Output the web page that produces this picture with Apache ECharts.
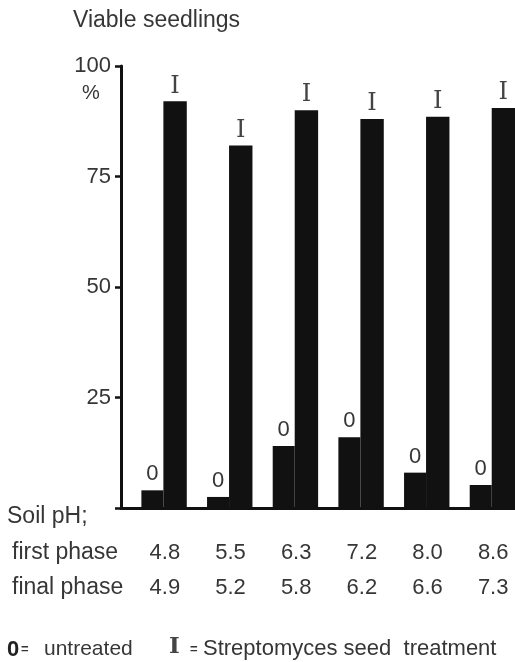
<!DOCTYPE html>
<html>
<head>
<meta charset="utf-8">
<script src="https://cdn.jsdelivr.net/npm/echarts@6/dist/echarts.min.js"></script>
<style>
html,body{margin:0;padding:0;background:#fff;}
#c{width:515px;height:662px;}
</style>
</head>
<body>
<div id="c"></div>
<script>
// Soil pH categories
const firstPhase = ['4.8', '5.5', '6.3', '7.2', '8.0', '8.6'];
const finalPhase = ['4.9', '5.2', '5.8', '6.2', '6.6', '7.3'];
// Viable seedlings, %
const untreated = [4, 2.5, 14, 16, 8, 5.2];
const treated = [92, 82, 90, 88, 88.5, 90.5];
const spacer = ['-', '-', '-', '-', '-', '-'];
const yTicks = [0, 25, 50, 75, 100];

const FONT = '"Liberation Sans", Arial, Helvetica, sans-serif';
const SERIF = '"DejaVu Serif", "Liberation Serif", serif';
const TXT = '#363636';
const INK = '#111';

const chart = echarts.init(document.getElementById('c'), null, {renderer: 'canvas'});
const t = (text, left, top, size, extra) => Object.assign({
  text: text, left: left, top: top, padding: 0,
  textStyle: {fontFamily: FONT, fontSize: size, fontWeight: 'normal', color: TXT}
}, extra || {});

chart.setOption({
  backgroundColor: '#fff',
  animation: false,
  title: [
    t('Viable seedlings', 73, 9, 23),
    t('%', 82, 83, 20),
    t('Soil pH;', 7, 505, 23),
    t('first phase', 12, 541, 23),
    t('final phase', 12, 576, 23),
    t('0', 7, 639, 22, {textStyle: {fontFamily: FONT, fontSize: 22, color: '#222'}}),
    t('=', 21, 643, 13, {textStyle: {fontFamily: FONT, fontSize: 13, fontWeight: 'bold', color: '#333'}}),
    t('untreated', 44, 639, 21),
    t('I', 169, 636, 23, {textStyle: {fontFamily: SERIF, fontSize: 23, color: '#444'}}),
    t('=', 190, 643, 13, {textStyle: {fontFamily: FONT, fontSize: 13, fontWeight: 'bold', color: '#333'}}),
    t('Streptomyces seed  treatment', 203, 638, 22)
  ],
  grid: {left: 121, right: -1, top: 66, bottom: 154, containLabel: false},
  xAxis: {
    type: 'category',
    data: firstPhase,
    axisLine: {show: true, lineStyle: {color: INK, width: 3}},
    axisTick: {show: false},
    axisLabel: {
      interval: 0,
      margin: 27,
      fontFamily: FONT,
      fontSize: 22,
      color: TXT,
      lineHeight: 35,
      padding: [0, 0, 0, 22],
      formatter: (v, i) => firstPhase[i] + '\n' + finalPhase[i]
    }
  },
  yAxis: {
    type: 'value',
    min: 0, max: 100, interval: 25,
    splitLine: {show: false},
    axisLine: {show: true, lineStyle: {color: INK, width: 3}},
    axisTick: {show: true, length: 6, lineStyle: {color: INK, width: 2.5}},
    axisLabel: {
      margin: 10,
      fontFamily: FONT,
      fontSize: 22,
      color: TXT,
      formatter: v => (yTicks.indexOf(v) > 0 ? String(v) : '')
    }
  },
  series: [
    {
      name: 'spacer', type: 'bar', data: spacer, barWidth: 20.5, barGap: '0%',
      itemStyle: {color: 'transparent'}, silent: true
    },
    {
      name: 'untreated', type: 'bar', data: untreated, barWidth: 22, barGap: '0%',
      itemStyle: {color: INK},
      label: {show: true, position: 'top', distance: 5, formatter: '0',
        fontFamily: FONT, fontSize: 22, color: TXT}
    },
    {
      name: 'Streptomyces seed treatment', type: 'bar', data: treated, barWidth: 23.4, barGap: '0%',
      itemStyle: {color: INK},
      label: {show: true, position: 'top', distance: 3, formatter: 'I',
        fontFamily: SERIF, fontSize: 24, color: '#444'}
    }
  ]
});
</script>
</body>
</html>
